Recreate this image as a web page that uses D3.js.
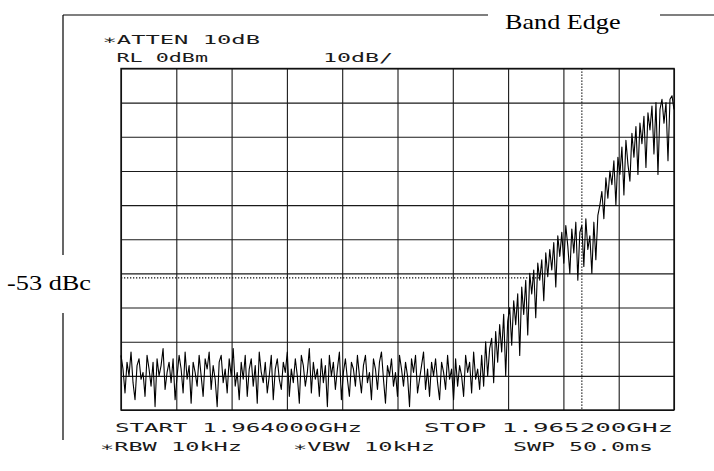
<!DOCTYPE html>
<html>
<head>
<meta charset="utf-8">
<script src="https://cdn.jsdelivr.net/npm/d3@7"></script>
<style>
  html, body { margin: 0; padding: 0; background: #fff; }
  svg { display: block; }
  .plot { font-family: "DejaVu Sans Mono", monospace; font-size: 12px; fill: #1a1a1a; }
  .serif { font-family: "Liberation Serif", "Times New Roman", serif; font-size: 21px; fill: #000; }
</style>
</head>
<body>
<svg id="chart" width="714" height="471"></svg>
<script>
// ---- data ----
const startGHz = 1.964000;
const stopGHz = 1.965200;
const bandEdgeGHz = 1.965000;
const refLevel = 0;          // dBm (top of screen)
const dbPerDiv = 10;
const limitLevel = -61.3;    // dBm, the -53 dBc reference line
const xDivisions = 10;
const yDivisions = 10;

// trace levels in dBm, evenly spaced sweep points from START to STOP
const levels = [
  -84,-88,-95,-86,-90,-83,-92,-97,-87,-85,-91,-89,-96,-84,-88,-93,-86,-99,-85,-90,
  -87,-82,-94,-89,-86,-92,-85,-97,-90,-84,-88,-95,-83,-91,-87,-98,-86,-89,-93,-84,
  -90,-96,-85,-88,-83,-94,-87,-91,-99,-86,-84,-92,-88,-95,-85,-90,-82,-93,-89,-97,
  -86,-91,-84,-96,-88,-85,-93,-87,-98,-83,-89,-92,-86,-95,-90,-84,-97,-88,-85,-91,
  -94,-86,-89,-83,-96,-88,-92,-85,-90,-98,-84,-87,-93,-89,-82,-95,-86,-91,-88,-96,
  -85,-92,-87,-99,-84,-90,-86,-94,-88,-83,-97,-89,-85,-91,-96,-86,-88,-93,-84,-90,
  -95,-87,-84,-92,-89,-97,-85,-88,-94,-86,-83,-91,-98,-87,-90,-85,-93,-89,-96,-84,
  -88,-93,-86,-90,-99,-85,-89,-84,-95,-91,-87,-83,-94,-88,-96,-86,-90,-85,-92,-97,
  -86,-89,-94,-84,-91,-88,-97,-85,-93,-87,-90,-96,-84,-89,-86,-95,-83,-91,-88,-94,
  -84,-93,-80,-90,-82,
  -79,-92,-77,-86,-75,
  -83,-72,-90,-74,-70,
  -81,-68,-75,-66,-84,
  -64,-72,-62,-78,-60,
  -66,-59,-73,-57,-62,
  -56,-68,-54,-61,-53,
  -59,-51,-64,-49,-55,
  -48,-57,-46,-52,-60,
  -47,-54,-45,-62,-48,
  -46,-58,-44,-53,-49,
  -60,-45,-56,-43,-40,
  -36,-44,-32,-38,-30,
  -34,-27,-40,-26,-31,
  -23,-37,-21,-28,-33,
  -19,-26,-17,-31,-16,
  -22,-14,-29,-13,-18,
  -11,-25,-10,-31,-12,
  -9,-16,-10,-27,-9,
  -8,-12
];

const headerTexts = ["\u2217ATTEN 10dB", "RL 0dBm", "10dB/"];
const footerTexts = ["START 1.964000GHz", "STOP 1.965200GHz", "\u2217RBW 10kHz", "\u2217VBW 10kHz", "SWP 50.0ms"];
const titleText = "Band Edge";
const limitText = "-53 dBc";

// ---- layout ----
const svg = d3.select("#chart");
const plot = { left: 121, right: 674, top: 68.5, bottom: 410 };

const x = d3.scaleLinear().domain([startGHz, stopGHz]).range([plot.left, plot.right]);
const y = d3.scaleLinear().domain([refLevel - dbPerDiv * yDivisions, refLevel]).range([plot.bottom, plot.top]);

const xTicks = d3.range(xDivisions + 1).map(i => startGHz + (stopGHz - startGHz) * i / xDivisions);
const yTicks = d3.range(yDivisions + 1).map(i => refLevel - dbPerDiv * i);

// outer frame (partial lines)
const frame = [[63, 15, 488, 15], [660, 15, 714, 15], [63, 15, 63, 255], [63, 313, 63, 440]];
frame.forEach(f => svg.append("line").attr("x1", f[0]).attr("y1", f[1]).attr("x2", f[2]).attr("y2", f[3])
  .attr("stroke", "#000").attr("stroke-width", 1.2));

// grid through axes
const gx = svg.append("g").attr("transform", `translate(0,${plot.bottom})`)
  .call(d3.axisBottom(x).tickValues(xTicks).tickSize(-(plot.bottom - plot.top)).tickFormat(""));
const gy = svg.append("g").attr("transform", `translate(${plot.left},0)`)
  .call(d3.axisLeft(y).tickValues(yTicks).tickSize(-(plot.right - plot.left)).tickFormat(""));
[gx, gy].forEach(g => {
  g.select(".domain").remove();
  g.selectAll(".tick line").attr("stroke", "#1a1a1a").attr("stroke-width", 1.1);
});

// plot border
svg.append("rect").attr("x", plot.left).attr("y", plot.top)
  .attr("width", plot.right - plot.left).attr("height", plot.bottom - plot.top)
  .attr("fill", "none").attr("stroke", "#111").attr("stroke-width", 1.4);

// band edge dotted vertical line
svg.append("line").attr("x1", x(bandEdgeGHz)).attr("x2", x(bandEdgeGHz))
  .attr("y1", plot.top).attr("y2", plot.bottom)
  .attr("stroke", "#111").attr("stroke-width", 1.3).attr("stroke-dasharray", "1.3,1.7");

// -53 dBc dotted horizontal line
svg.append("line").attr("x1", plot.left).attr("x2", 540)
  .attr("y1", y(limitLevel)).attr("y2", y(limitLevel))
  .attr("stroke", "#111").attr("stroke-width", 1.3).attr("stroke-dasharray", "1.3,1.7");

// trace
const step = (stopGHz - startGHz) / (levels.length - 1);
const line = d3.line().x((d, i) => x(startGHz + i * step)).y(d => y(d));
svg.append("path").datum(levels).attr("d", line)
  .attr("fill", "none").attr("stroke", "#000").attr("stroke-width", 1.1).attr("stroke-linejoin", "round");

// plotter text
function plotText(str, x0, base, width) {
  return svg.append("text").attr("class", "plot").attr("x", x0).attr("y", base)
    .attr("textLength", width).attr("lengthAdjust", "spacingAndGlyphs").text(str);
}
plotText(headerTexts[0], 102.5, 44, 157.5);
plotText(headerTexts[1], 116.5, 61.5, 91.5);
plotText(headerTexts[2], 323, 61.5, 70);
plotText(footerTexts[0], 115, 432, 247);
plotText(footerTexts[1], 424, 432, 249);
plotText(footerTexts[2], 100, 451, 142);
plotText(footerTexts[3], 293, 451, 142);
plotText(footerTexts[4], 513, 451, 140);

// serif annotations
svg.append("text").attr("class", "serif").attr("x", 505).attr("y", 28.5)
  .attr("textLength", 115.5).attr("lengthAdjust", "spacingAndGlyphs").text(titleText);
svg.append("text").attr("class", "serif").attr("x", 7).attr("y", 289.5)
  .attr("textLength", 84).attr("lengthAdjust", "spacingAndGlyphs").text(limitText);
</script>
</body>
</html>
